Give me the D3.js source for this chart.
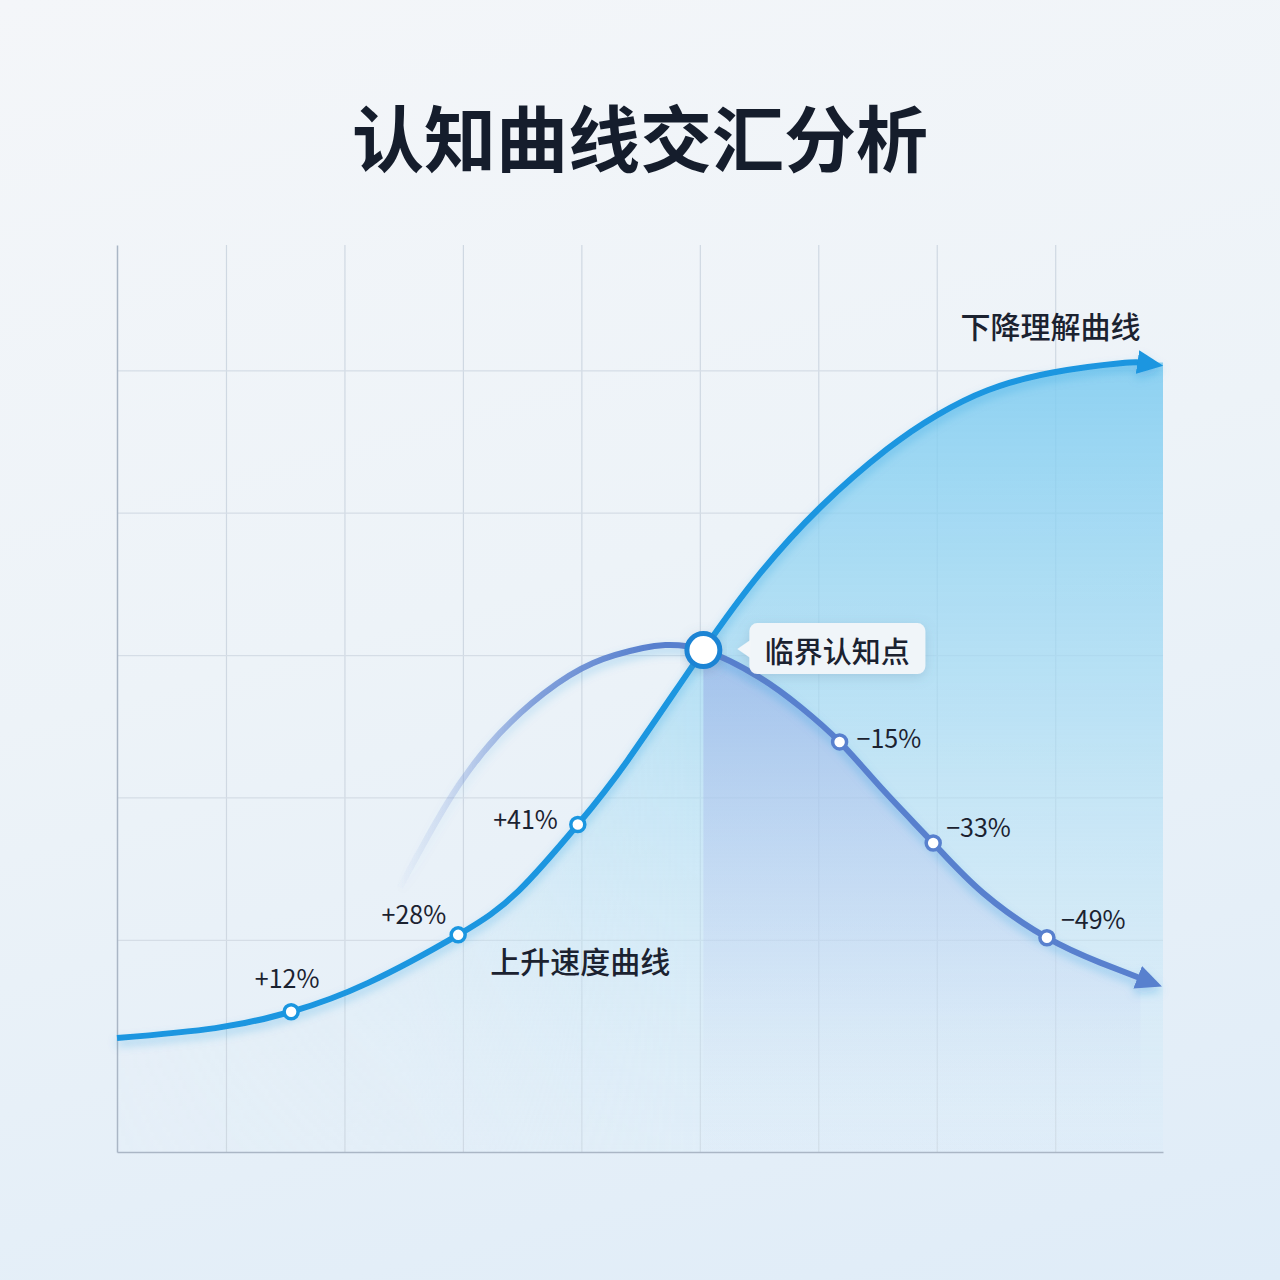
<!DOCTYPE html>
<html lang="zh">
<head>
<meta charset="utf-8">
<title>认知曲线交汇分析</title>
<script src="https://cdn.jsdelivr.net/npm/d3@7"></script>
<style>
  html, body { margin: 0; padding: 0; }
  body {
    width: 1280px; height: 1280px; overflow: hidden;
    background: linear-gradient(165deg, #f4f6f9 0%, #edf3f8 45%, #dfecf8 100%);
    font-family: "Noto Sans CJK SC", "Noto Sans", sans-serif;
  }
  svg { display: block; }
  .pct { font-size: 25px; fill: #1b2230; }
  .curve-label { font-size: 30px; font-weight: 500; fill: #1b2230; }
</style>
</head>
<body>
<svg id="chart" width="1280" height="1280"></svg>
<script>
// ---- data ----
const title = "认知曲线交汇分析";
const xDomain = [0.8, 89.1];
const yDomain = [-4.9, 58.8];
const xGrid = [10, 20, 30, 40, 50, 60, 70, 80];
const yGrid = [10, 20, 30, 40, 50];

// blue curve (rises, flattens out at the top)
const riseX = [0.8, 9.1, 15.5, 22.0, 29.6, 34.7, 39.7, 43.9, 50.3, 55.1, 60.2, 65.8, 70.0, 74.3, 79.8, 85.5, 87.2];
const riseY = [3.1, 3.8, 4.95, 6.98, 10.35, 13.44, 18.1, 22.6, 30.35, 35.75, 40.4, 44.46, 46.84, 48.6, 49.85, 50.5, 50.55];
const riseMarkers = [2, 4, 6];
const riseLabels = ["+12%", "+28%", "+41%"];

// purple curve (hump, then falls)
const fallX = [24.7, 27.0, 29.75, 33.1, 36.8, 41.0, 45.2, 47.1, 50.3, 55.1, 58.5, 61.8, 65.5, 69.7, 73.9, 79.3, 83.8, 87.2];
const fallY = [13.7, 17.2, 21.0, 24.5, 27.3, 29.45, 30.5, 30.7, 30.35, 28.4, 26.35, 23.9, 20.5, 16.8, 13.3, 10.15, 8.4, 7.3];
const fallMarkers = [11, 13, 15];
const fallLabels = ["\u221215%", "\u221233%", "\u221249%"];

const crossIndex = { rise: 8, fall: 8 };
const crossLabel = "临界认知点";
const riseName = "上升速度曲线";
const fallName = "下降理解曲线";

// ---- layout ----
const plot = { left: 117, right: 1163, top: 245, bottom: 1152 };
const riseLabelOffsets = [
  { dx: -4, dy: -35, anchor: "middle" },
  { dx: -12, dy: -22, anchor: "end" },
  { dx: -20, dy: -7, anchor: "end" }
];
const fallLabelOffsets = [
  { dx: 17, dy: -5, anchor: "start" },
  { dx: 13, dy: -17, anchor: "start" },
  { dx: 14, dy: -20, anchor: "start" }
];

const svg = d3.select("#chart");

const x = d3.scaleLinear().domain(xDomain).range([plot.left, plot.right]);
const y = d3.scaleLinear().domain(yDomain).range([plot.bottom, plot.top]);

const rise = riseX.map((v, i) => ({ x: v, y: riseY[i] }));
const fall = fallX.map((v, i) => ({ x: v, y: fallY[i] }));

const curve = d3.curveNatural;

// ---- defs ----
const defs = svg.append("defs");

function linGrad(id, x1, y1, x2, y2, stops) {
  const g = defs.append("linearGradient").attr("id", id)
    .attr("gradientUnits", "userSpaceOnUse")
    .attr("x1", x1).attr("y1", y1).attr("x2", x2).attr("y2", y2);
  stops.forEach(s => g.append("stop")
    .attr("offset", s[0]).attr("stop-color", s[1]).attr("stop-opacity", s[2]));
}

linGrad("vGridFade", 0, plot.top, 0, plot.bottom, [[0, "#cfd8e2", 1], [0.7, "#d3dce6", 0.8], [1, "#d6dee8", 0.25]]);
linGrad("blueFill", 0, 360, 0, plot.bottom, [[0, "#7ccbf0", 0.85], [0.45, "#a3daf3", 0.65], [1, "#d8edf9", 0.25]]);
linGrad("purpleFill", 0, 650, 0, 1110, [[0, "#8fa3e2", 0.5], [0.6, "#b7c6ef", 0.3], [1, "#d9e3f6", 0.05]]);
linGrad("fadeLeftGrad", plot.left, 0, 700, 0, [[0, "#fff", 0.12], [0.5, "#fff", 0.4], [0.8, "#fff", 0.85], [1, "#fff", 1]]);
linGrad("fallStroke", 395, 0, 650, 0, [[0, "#5a80cf", 0], [0.2, "#6a8bd4", 0.2], [0.55, "#5a80cf", 0.7], [1, "#5880ce", 1]]);

defs.append("mask").attr("id", "fadeLeft")
  .attr("maskUnits", "userSpaceOnUse")
  .attr("x", 0).attr("y", 0).attr("width", 1280).attr("height", 1280)
  .append("rect").attr("width", 1280).attr("height", 1280).attr("fill", "url(#fadeLeftGrad)");

const shadow = defs.append("filter").attr("id", "lineShadow")
  .attr("x", "-10%").attr("y", "-20%").attr("width", "120%").attr("height", "140%");
shadow.append("feDropShadow").attr("dx", 0).attr("dy", 5).attr("stdDeviation", 5)
  .attr("flood-color", "#1c8fdc").attr("flood-opacity", 0.3);

const boxShadow = defs.append("filter").attr("id", "boxShadow")
  .attr("x", "-20%").attr("y", "-40%").attr("width", "140%").attr("height", "180%");
boxShadow.append("feDropShadow").attr("dx", 0).attr("dy", 3).attr("stdDeviation", 6)
  .attr("flood-color", "#5d7d9c").attr("flood-opacity", 0.25);

function arrowMarker(id, color) {
  defs.append("marker").attr("id", id)
    .attr("markerUnits", "userSpaceOnUse")
    .attr("viewBox", "0 0 26 26")
    .attr("markerWidth", 26).attr("markerHeight", 26)
    .attr("refX", 3).attr("refY", 13)
    .attr("orient", "auto")
    .append("path").attr("d", "M0,1 L26,13 L0,25 Z").attr("fill", color);
}
arrowMarker("arrowBlue", "#1a96e0");
arrowMarker("arrowPurple", "#5880ce");

// ---- grid & axes ----
const gx = svg.append("g")
  .attr("transform", `translate(0,${plot.bottom})`)
  .call(d3.axisBottom(x).tickValues(xGrid).tickSize(-(plot.bottom - plot.top)).tickFormat("").tickSizeOuter(0));
gx.select(".domain").remove();
gx.selectAll(".tick line").attr("stroke", "url(#vGridFade)").attr("stroke-width", 1.2);

const gy = svg.append("g")
  .attr("transform", `translate(${plot.left},0)`)
  .call(d3.axisLeft(y).tickValues(yGrid).tickSize(-(plot.right - plot.left)).tickFormat("").tickSizeOuter(0));
gy.select(".domain").remove();
gy.selectAll(".tick line").attr("stroke", "#d5dde6").attr("stroke-width", 1.2);

// ---- areas ----
const area = d3.area().curve(curve)
  .x(d => x(d.x)).y0(plot.bottom).y1(d => y(d.y));

// blue fill runs on to the right edge of the plot
const riseFill = rise.concat([{ x: xDomain[1], y: rise[rise.length - 1].y }]);
svg.append("path").datum(riseFill)
  .attr("d", area)
  .attr("fill", "url(#blueFill)")
  .attr("mask", "url(#fadeLeft)");

svg.append("path").datum(fall.slice(crossIndex.fall))
  .attr("d", area)
  .attr("fill", "url(#purpleFill)");

// axis lines
svg.append("g").attr("transform", `translate(${plot.left},0)`)
  .call(d3.axisLeft(y).tickValues([]).tickSizeOuter(0))
  .select(".domain").attr("stroke", "#aab6c5").attr("stroke-width", 1.5);
svg.append("g").attr("transform", `translate(0,${plot.bottom})`)
  .call(d3.axisBottom(x).tickValues([]).tickSizeOuter(0))
  .select(".domain").attr("stroke", "#aab6c5").attr("stroke-width", 1.5);

// ---- lines ----
const line = d3.line().curve(curve).x(d => x(d.x)).y(d => y(d.y));

svg.append("path").datum(fall)
  .attr("d", line)
  .attr("fill", "none")
  .attr("stroke", "url(#fallStroke)")
  .attr("stroke-width", 6)
  .attr("marker-end", "url(#arrowPurple)")
  .attr("filter", "url(#lineShadow)");

svg.append("path").datum(rise)
  .attr("d", line)
  .attr("fill", "none")
  .attr("stroke", "#1a96e0")
  .attr("stroke-width", 6)
  .attr("marker-end", "url(#arrowBlue)")
  .attr("filter", "url(#lineShadow)");

// ---- markers & labels ----
function drawMarkers(series, idx, labels, offsets, color) {
  idx.forEach((k, i) => {
    const p = series[k];
    svg.append("circle")
      .attr("cx", x(p.x)).attr("cy", y(p.y)).attr("r", 7)
      .attr("fill", "#fff").attr("stroke", color).attr("stroke-width", 3.5);
    svg.append("text").attr("class", "pct")
      .attr("x", x(p.x) + offsets[i].dx)
      .attr("y", y(p.y) + offsets[i].dy)
      .attr("text-anchor", offsets[i].anchor)
      .attr("dominant-baseline", "central")
      .text(labels[i]);
  });
}
drawMarkers(rise, riseMarkers, riseLabels, riseLabelOffsets, "#1a96e0");
drawMarkers(fall, fallMarkers, fallLabels, fallLabelOffsets, "#5880ce");

// crossing point
const cp = rise[crossIndex.rise];
const cx = x(cp.x), cy = y(cp.y);
svg.append("circle")
  .attr("cx", cx).attr("cy", cy).attr("r", 16.5)
  .attr("fill", "#fff").attr("stroke", "#1b84d4").attr("stroke-width", 5)
  .attr("filter", "url(#boxShadow)");

const callout = svg.append("g").attr("filter", "url(#boxShadow)");
callout.append("rect")
  .attr("x", cx + 46).attr("y", cy - 27).attr("width", 176).attr("height", 51).attr("rx", 8)
  .attr("fill", "#f3f7fa").attr("fill-opacity", 0.95);
callout.append("path")
  .attr("d", `M${cx + 34},${cy - 1} L${cx + 47},${cy - 10} L${cx + 47},${cy + 8} Z`)
  .attr("fill", "#f3f7fa");
svg.append("text")
  .attr("x", cx + 134).attr("y", cy)
  .attr("text-anchor", "middle").attr("dominant-baseline", "central")
  .attr("font-size", 29).attr("font-weight", 500).attr("fill", "#1b2230")
  .text(crossLabel);

// curve names
svg.append("text").attr("class", "curve-label")
  .attr("x", x(79.6)).attr("y", y(53.2))
  .attr("text-anchor", "middle").attr("dominant-baseline", "central")
  .text(fallName);
svg.append("text").attr("class", "curve-label")
  .attr("x", x(39.9)).attr("y", y(8.6))
  .attr("text-anchor", "middle").attr("dominant-baseline", "central")
  .text(riseName);

// title
svg.append("text")
  .attr("x", 640).attr("y", 134)
  .attr("text-anchor", "middle").attr("dominant-baseline", "central")
  .attr("font-size", 72).attr("font-weight", 700).attr("fill", "#151d2c")
  .text(title);
</script>
</body>
</html>
